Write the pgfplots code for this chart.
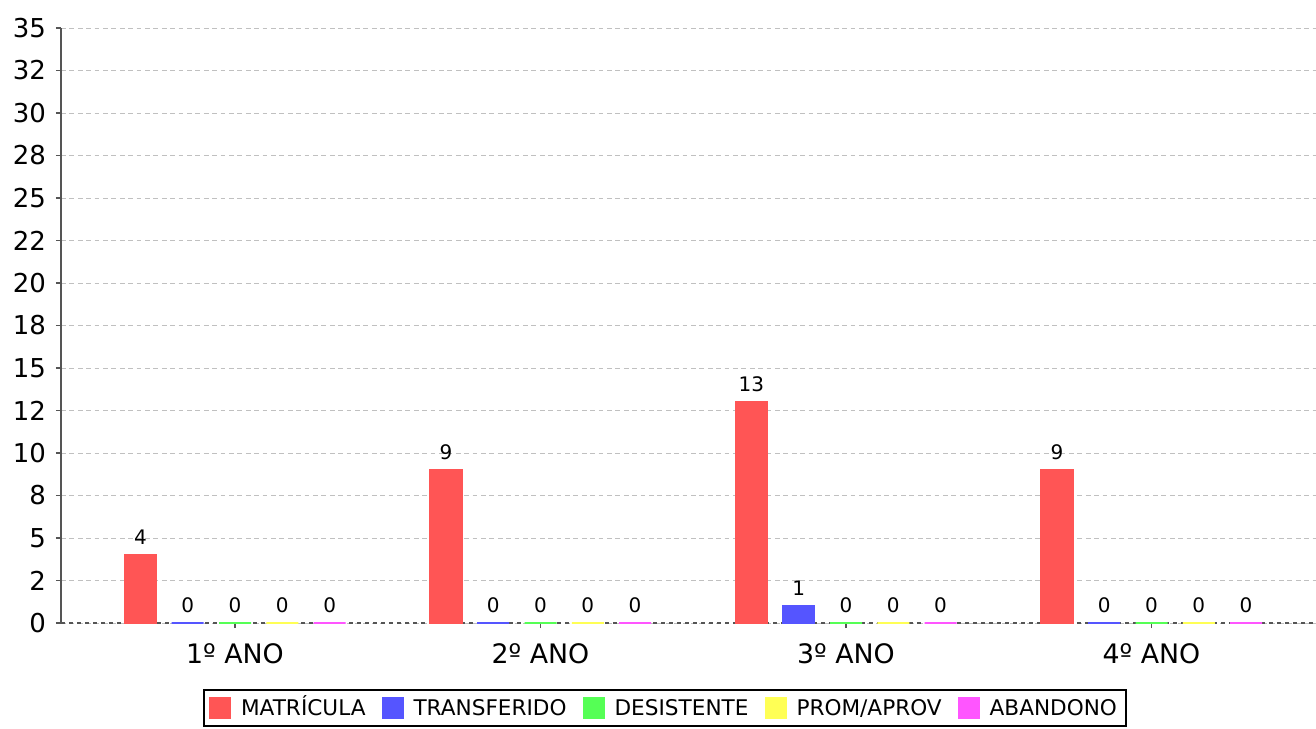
\documentclass[border=0pt]{standalone}
\usepackage{fontspec}
\setmainfont{DejaVu Sans}
\usepackage{pgfplots}
\pgfplotsset{compat=1.18}
\definecolor{cM}{HTML}{FF5555}
\definecolor{cT}{HTML}{5555FF}
\definecolor{cD}{HTML}{55FF55}
\definecolor{cP}{HTML}{FFFF55}
\definecolor{cA}{HTML}{FF55FF}
\definecolor{axgray}{HTML}{555555}
\definecolor{gridgray}{HTML}{C0C0C0}
\pgfplotsset{swatch/.style={legend image code/.code={\fill[##1,draw=none] (0pt,-5.5pt) rectangle (11pt,5.5pt);}}}
\begin{document}
\begin{tikzpicture}
\useasboundingbox (-30.5pt,-52.5pt) rectangle (627.5pt,311.5pt);
\begin{axis}[
  scale only axis, width=627.5pt, height=297.5pt,
  xmin=-0.5696, xmax=3.5385, ymin=0, ymax=35,
  /pgf/number format/assume math mode=true,
  ytick={0,2.5,5,7.5,10,12.5,15,17.5,20,22.5,25,27.5,30,32.5,35},
  yticklabels={0,2,5,8,10,12,15,18,20,22,25,28,30,32,35},
  xtick={0,1,2,3},
  xticklabels={1º ANO,2º ANO,3º ANO,4º ANO},
  ybar=7.65pt, bar width=16pt,
  ymajorgrids, grid style={gridgray, line width=0.5pt, dash pattern=on 2.4pt off 1.8pt},
  axis lines*=left,
  x axis line style={draw=none},
  y axis line style={axgray, line width=1pt},
  tick align=outside, major tick length=2.5pt,
  tick style={axgray, line width=0.8pt},
  yticklabel style={font=\fontsize{13}{15}\selectfont, black, xshift=-1.5pt},
  xticklabel style={font=\fontsize{13.4}{15}\selectfont, black, yshift=-4.5pt},
  nodes near coords,
  nodes near coords style={font=\fontsize{10}{12}\selectfont, black, yshift=1.5pt},
  legend columns=5,
  legend style={at={(0.4813,-0.1429)}, anchor=center, draw=black, line width=1pt,
    font=\fontsize{10.8}{12}\selectfont, inner xsep=2.5pt, inner ysep=2pt,
    nodes={text height=1.6ex, text depth=0.25ex},
    /tikz/every odd column/.append style={column sep=3pt},
    /tikz/every even column/.append style={column sep=6pt}},
]
\draw[axgray, line width=1pt, dash pattern=on 2pt off 2pt] (rel axis cs:0,0) -- (rel axis cs:1,0);
\addplot[fill=cM, draw=cM, line width=0.6pt, swatch] coordinates {(0,4) (1,9) (2,13) (3,9)};
\addplot[fill=cT, draw=cT, line width=0.6pt, swatch] coordinates {(0,0) (1,0) (2,1) (3,0)};
\addplot[fill=cD, draw=cD, line width=0.6pt, swatch] coordinates {(0,0) (1,0) (2,0) (3,0)};
\addplot[fill=cP, draw=cP, line width=0.6pt, swatch] coordinates {(0,0) (1,0) (2,0) (3,0)};
\addplot[fill=cA, draw=cA, line width=0.6pt, swatch] coordinates {(0,0) (1,0) (2,0) (3,0)};
\legend{MATRÍCULA,TRANSFERIDO,DESISTENTE,PROM/APROV,ABANDONO}
\end{axis}
\end{tikzpicture}
\end{document}
